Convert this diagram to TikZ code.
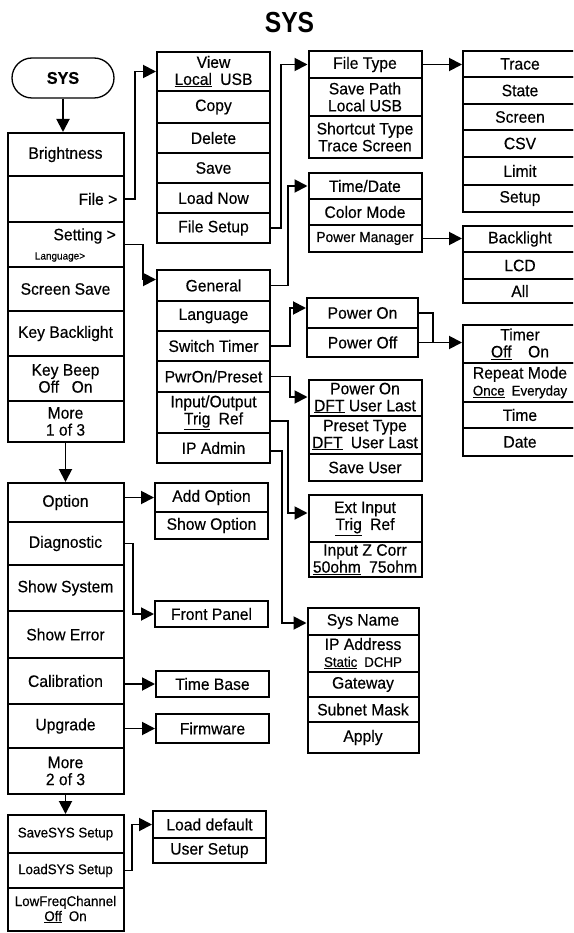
\documentclass[tikz,border=0pt]{standalone}
\usepackage{fontspec}
\setmainfont{Liberation Sans}[FakeStretch=0.95,FakeBold=0.4]
\newfontfamily\titlefont{Liberation Sans}[FakeStretch=0.85]
\usetikzlibrary{arrows.meta,calc}
\newcommand\smallfnt{\fontsize{14}{15}\selectfont}
\tikzset{
  txt/.style={inner sep=0pt, font=\fontsize{16.5}{17}\selectfont},
  bx/.style={draw, line width=2pt, inner sep=0pt, align=center, font=\fontsize{16.5}{17}\selectfont},
  colL/.style={bx, minimum width=116pt},
  colF/.style={bx, minimum width=113pt},
  colT/.style={bx, minimum width=113pt},
  colP/.style={bx, minimum width=111pt},
  colR/.style={bx, minimum width=114pt},
  colO/.style={bx, minimum width=113pt},
  conn/.style={line width=1.9pt},
  arr/.style={conn, -{Triangle[length=13pt,width=13pt]}},
}
\begin{document}
\begin{tikzpicture}[x=1pt,y=-1pt]
\useasboundingbox (0,0) rectangle (573,933);
\clip (0,0) rectangle (573,933);

% title
\node[inner sep=0pt, font={\titlefont\bfseries\fontsize{29}{29}\selectfont}] (title) at (289.5,22.5) {SYS};

% start pill
\node[draw, line width=1.3pt, rounded corners=20pt, minimum width=102pt, minimum height=40pt, inner sep=0pt,
      font=\bfseries\fontsize{17}{17}\selectfont] (sys) at (63,78) {SYS};

% left column 1
\node[colL, minimum height=43pt] (bright) at (65.5,154.5) {Brightness};
\node[colL, minimum height=46pt] (file) at (65.5,199) {};
\node[colL, minimum height=45pt] (setting) at (65.5,244.5) {};
\node[colL, minimum height=44pt] (scrsave) at (65.5,289) {Screen Save};
\node[colL, minimum height=45pt] (keybl) at (65.5,333.5) {Key Backlight};
\node[colL, minimum height=45pt] (keybeep) at (65.5,378.5) {Key Beep\\Off\enspace\ On};
\node[colL, minimum height=41pt] (more1) at (65.5,421.5) {More\\1 of 3};
\node[txt, anchor=east] (filelbl) at ([xshift=-7pt]file.east) {File >};
\node[txt, anchor=east] (setlbl) at (116,236) {Setting >};
\node[inner sep=0pt, font=\fontsize{10.5}{11}\selectfont] (langlbl) at (60,257) {Language>};

% left column 2
\node[colL, minimum height=39pt] (option) at (65.5,502.5) {Option};
\node[colL, minimum height=43pt] (diag) at (65.5,543.5) {Diagnostic};
\node[colL, minimum height=46pt] (showsys) at (65.5,588) {Show System};
\node[colL, minimum height=47pt] (showerr) at (65.5,634.5) {Show Error};
\node[colL, minimum height=46pt] (calib) at (65.5,681) {Calibration};
\node[colL, minimum height=44pt] (upgrade) at (65.5,726) {Upgrade};
\node[colL, minimum height=46pt] (more2) at (65.5,771) {More\\2 of 3};

% left column 3
\node[colL, minimum height=38pt, font=\smallfnt] (savesys) at (65.5,834) {SaveSYS Setup};
\node[colL, minimum height=35pt, font=\smallfnt] (loadsys) at (65.5,870.5) {LoadSYS Setup};
\node[colL, minimum height=43pt, font=\smallfnt] (lowfreq) at (65.5,909.5) {LowFreqChannel\\\underline{Off}\enspace On};

% file submenu
\node[colF, minimum height=39pt] (view) at (213.5,71.5) {View\\\underline{Local}\enspace USB};
\node[colF, minimum height=32pt] (copy) at (213.5,107) {Copy};
\node[colF, minimum height=30pt] (delete) at (213.5,138) {Delete};
\node[colF, minimum height=30pt] (save) at (213.5,168) {Save};
\node[colF, minimum height=30pt] (loadnow) at (213.5,198) {Load Now};
\node[colF, minimum height=30pt] (filesetup) at (213.5,228) {File Setup};

% setting submenu
\node[colF, minimum height=31pt] (general) at (213.5,285.5) {General};
\node[colF, minimum height=30pt] (language) at (213.5,316) {Language};
\node[colF, minimum height=30pt] (switchtimer) at (213.5,346) {Switch Timer};
\node[colF, minimum height=31pt] (pwronpreset) at (213.5,376.5) {PwrOn/Preset};
\node[colF, minimum height=41pt] (inout) at (213.5,412.5) {Input/Output\\\underline{Trig}\enspace Ref};
\node[colF, minimum height=30pt] (ipadmin) at (213.5,448) {IP Admin};

% file setup submenu
\node[colT, minimum height=27pt] (filetype) at (365,64.5) {File Type};
\node[colT, minimum height=38pt] (savepath) at (365,97) {Save Path\\Local USB};
\node[colT, minimum height=42pt] (shortcut) at (365,137) {Shortcut Type\\Trace Screen};

% general submenu
\node[colT, minimum height=26pt] (timedate) at (365,186) {Time/Date};
\node[colT, minimum height=26pt] (colormode) at (365,212) {Color Mode};
\node[colT, minimum height=27pt, font=\fontsize{14.5}{15}\selectfont] (powermgr) at (365,238.5) {Power Manager};

% switch timer submenu
\node[colP, minimum height=30pt] (poweron) at (362.5,313) {Power On};
\node[colP, minimum height=29pt] (poweroff) at (362.5,342.5) {Power Off};

% pwron/preset submenu
\node[colT, minimum height=36pt] (pwrondft) at (365,398) {Power On\\\underline{DFT} User Last};
\node[colT, minimum height=38pt] (presettype) at (365,435) {Preset Type\\\underline{DFT}\enspace User Last};
\node[colT, minimum height=27pt] (saveuser) at (365,467.5) {Save User};

% input/output submenu
\node[colT, minimum height=47pt] (extinput) at (365,518.5) {Ext Input\\\underline{Trig}\enspace Ref};
\node[colT, minimum height=35pt] (inputz) at (365,559.5) {Input Z Corr\\\underline{50ohm}\enspace 75ohm};

% ip admin submenu
\node[colP, minimum height=27pt] (sysname) at (363,621.5) {Sys Name};
\node[colP, minimum height=37pt] (ipaddr) at (363,653.5) {IP Address\\{\smallfnt\underline{Static}\enspace DCHP}};
\node[colP, minimum height=25pt] (gateway) at (363,684.5) {Gateway};
\node[colP, minimum height=25pt] (subnet) at (363,709.5) {Subnet Mask};
\node[colP, minimum height=31pt] (apply) at (363,737.5) {Apply};

% file type submenu
\node[colR, minimum height=26pt] (trace) at (520,64) {Trace};
\node[colR, minimum height=27pt] (state) at (520,90.5) {State};
\node[colR, minimum height=26pt] (screen) at (520,117) {Screen};
\node[colR, minimum height=27pt] (csv) at (520,143.5) {CSV};
\node[colR, minimum height=28pt] (limit) at (520,171) {Limit};
\node[colR, minimum height=27pt] (setup) at (520,198.5) {Setup};

% power manager submenu
\node[colR, minimum height=26pt] (backlight) at (520,239) {Backlight};
\node[colR, minimum height=27pt] (lcd) at (520,265.5) {LCD};
\node[colR, minimum height=24pt] (all) at (520,291) {All};

% timer submenu
\node[colR, minimum height=38pt] (timer) at (520,344) {Timer\\\underline{Off}\quad On};
\node[colR, minimum height=39pt] (repeat) at (520,382.5) {Repeat Mode\\{\smallfnt\underline{Once}\enspace Everyday}};
\node[colR, minimum height=26pt] (time) at (520,415) {Time};
\node[colR, minimum height=28pt] (date) at (520,442) {Date};

% option side
\node[colO, minimum height=29pt] (addopt) at (211.5,497.5) {Add Option};
\node[colO, minimum height=27pt] (showopt) at (211.5,525.5) {Show Option};
\node[colO, minimum height=26pt] (frontpanel) at (211.5,614) {Front Panel};
\node[colO, minimum height=26pt] (timebase) at (212.5,684) {Time Base};
\node[colO, minimum height=29pt] (firmware) at (212.5,728.5) {Firmware};
\node[colO, minimum height=27pt] (loaddef) at (209.5,824.5) {Load default};
\node[colO, minimum height=25pt] (usersetup) at (209.5,850.5) {User Setup};

% connectors
\draw[arr] (sys.south) -- (sys.south |- bright.north);
\draw[arr] (more1.south) -- (option.north);
\draw[arr] (more2.south) -- (savesys.north);
\draw[arr] (file.east) -- (135,199) |- (view.west);
\draw[arr] (setting.east) -- (143,244.5) |- ([yshift=6pt]general.west);
\draw[arr] (filesetup.east) -- (281,228) |- (filetype.west);
\draw[arr] (general.east) -- (288,285.5) |- (timedate.west);
\draw[arr] (filetype.east) -- (filetype.east -| trace.west);
\draw[arr] (powermgr.east) -- (powermgr.east -| backlight.west);
\draw[arr] (switchtimer.east) -- (290,346) |- ([yshift=5pt]poweron.west);
\draw[conn] (poweron.east) -- (433,313) -- (433,342.5);
\draw[arr] (poweroff.east) -- (poweroff.east -| timer.west);
\draw[arr] (pwronpreset.east) -- (290,376.5) |- ([yshift=1pt]pwrondft.west);
\draw[arr] ([yshift=-8.5pt]inout.east) -- (288,421) |- ([yshift=5.5pt]extinput.west);
\draw[arr] ([yshift=-3pt]ipadmin.east) -- (282,451) |- ([yshift=-1.5pt]sysname.west);
\draw[arr] (option.east |- addopt.west) -- (addopt.west);
\draw[arr] (diag.east) -- (133,543.5) |- (frontpanel.west);
\draw[arr] (calib.east |- timebase.west) -- (timebase.west);
\draw[arr] (upgrade.east |- firmware.west) -- (firmware.west);
\draw[arr] (loadsys.east) -- (132,870.5) |- (loaddef.west);
\end{tikzpicture}
\end{document}
